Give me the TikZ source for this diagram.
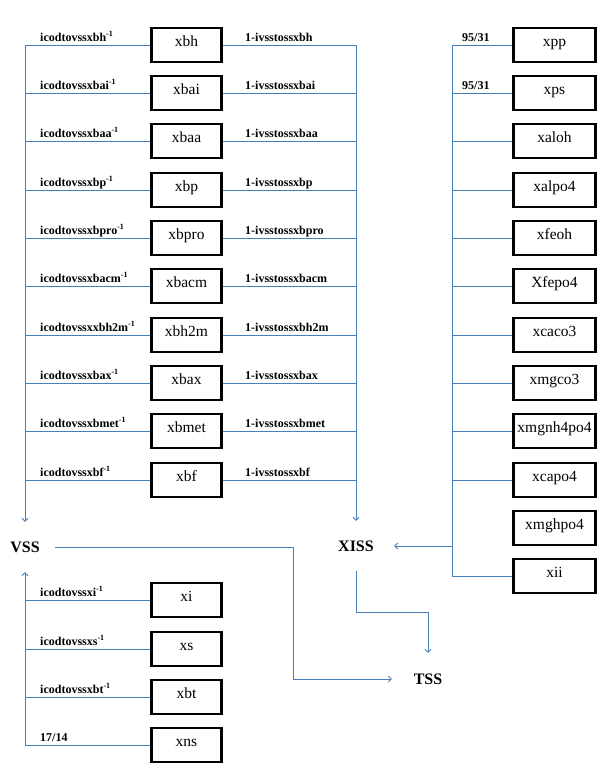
\documentclass[tikz,border=0pt]{standalone}
\usepackage{fontspec}
\setmainfont{Liberation Serif}
\usetikzlibrary{arrows.meta}
\definecolor{bl}{RGB}{74,126,187}
\begin{document}
\begin{tikzpicture}[x=1pt,y=-1pt,
  box/.style={draw=black,line width=2.6pt,minimum width=70pt,minimum height=34pt,inner sep=0pt,
    font=\fontsize{15.5}{17}\selectfont,text height=8pt,text depth=6pt},
  rbox/.style={box,minimum width=82pt},
  lab/.style={anchor=base west,inner sep=0pt,font=\fontsize{12}{14}\selectfont\bfseries},
  sumnode/.style={inner sep=0pt,font=\fontsize{16}{18}\selectfont\bfseries},
  conn/.style={draw=bl,line width=0.9pt},
  arr/.style={conn,-{Straight Barb[length=3pt,width=6pt]}}]
\useasboundingbox (0,0) rectangle (607,771);

% summary nodes
\node[sumnode,minimum width=60pt,minimum height=50pt] (VSS) at (25,547) {VSS};
\node[sumnode,minimum width=76pt,minimum height=50pt] (XISS) at (356,546) {XISS};
\node[sumnode,minimum width=72pt,minimum height=52pt] (TSS) at (428,679) {TSS};

% upper left column
\foreach \n/\y/\a/\b in {
  xbh/45/icodtovssxbh/1-ivsstossxbh,
  xbai/93/icodtovssxbai/1-ivsstossxbai,
  xbaa/141/icodtovssxbaa/1-ivsstossxbaa,
  xbp/190/icodtovssxbp/1-ivsstossxbp,
  xbpro/238/icodtovssxbpro/1-ivsstossxbpro,
  xbacm/286/icodtovssxbacm/1-ivsstossxbacm,
  xbh2m/335/icodtovssxxbh2m/1-ivsstossxbh2m,
  xbax/383/icodtovssxbax/1-ivsstossxbax,
  xbmet/431/icodtovssxbmet/1-ivsstossxbmet,
  xbf/480/icodtovssxbf/1-ivsstossxbf}{
  \node[box] (\n) at (186.5,\y) {\n};
  \node[lab] (L\n) at (40,\y-4) {\a\textsuperscript{-1}};
  \node[lab] (R\n) at (245,\y-4) {\b};
  \draw[conn] (\n.west) -- (\n.west -| VSS.north);
  \draw[conn] (\n.east) -- (\n.east -| XISS.north);
}
\draw[arr] (xbh.west -| VSS.north) -- (VSS.north);
\draw[arr] (xbh.east -| XISS.north) -- (XISS.north);

% lower left column
\foreach \n/\y/\a in {xi/600/icodtovssxi,xs/649/icodtovssxs,xbt/697/icodtovssxbt}{
  \node[box] (\n) at (186.5,\y) {\n};
  \node[lab] (L\n) at (40,\y-4) {\a\textsuperscript{-1}};
  \draw[conn] (\n.west) -- (\n.west -| VSS.south);
}
\node[box] (xns) at (186.5,745) {xns};
\node[lab] (Lxns) at (40,741) {17/14};
\draw[conn] (xns.west) -- (xns.west -| VSS.south);
\draw[arr] (xns.west -| VSS.south) -- (VSS.south);

% right column
\coordinate (rb) at (452,546);
\foreach \n/\y in {xpp/45,xps/93,xaloh/141,xalpo4/190,xfeoh/238,Xfepo4/286,
  xcaco3/335,xmgco3/383,xmgnh4po4/431,xcapo4/480,xii/576}{
  \node[rbox] (\n) at (554.5,\y) {\n};
  \draw[conn] (\n.west) -- (\n.west -| rb);
}
\node[rbox] (xmghpo4) at (554.5,528) {xmghpo4};
\node[lab] (Lxpp) at (462,41) {95/31};
\node[lab] (Lxps) at (462,89) {95/31};
\draw[conn] (xpp.west -| rb) -- (xii.west -| rb);
\draw[arr] (rb) -- (XISS.east);

% to TSS
\coordinate (c1) at (293,547);
\coordinate (c2) at (428,612);
\draw[arr] (VSS.east) -- (c1) |- (TSS.west);
\draw[arr] (XISS.south) |- (c2) -- (TSS.north);
\end{tikzpicture}
\end{document}
